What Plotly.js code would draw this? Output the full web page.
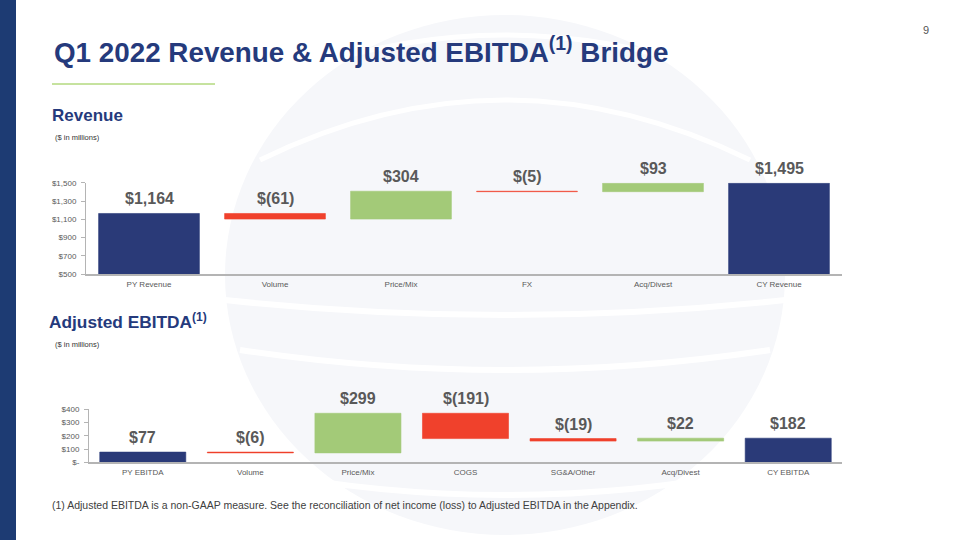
<!DOCTYPE html>
<html>
<head>
<meta charset="utf-8">
<script src="https://cdn.plot.ly/plotly-3.0.1.min.js"></script>
<style>
html,body{margin:0;padding:0;background:#fff;}
#chart{width:960px;height:540px;}
</style>
</head>
<body>
<div id="chart"></div>
<script>
// ---- data ----
const revCategories = ["PY Revenue", "Volume", "Price/Mix", "FX", "Acq/Divest", "CY Revenue"];
const revValues = [1164, -61, 304, -5, 93, 1495];
const revMeasures = ["absolute", "relative", "relative", "relative", "relative", "total"];
const revTickVals = [500, 700, 900, 1100, 1300, 1500];
const revTickText = ["$500", "$700", "$900", "$1,100", "$1,300", "$1,500"];

const ebitdaCategories = ["PY EBITDA", "Volume", "Price/Mix", "COGS", "SG&A/Other", "Acq/Divest", "CY EBITDA"];
const ebitdaValues = [77, -6, 299, -191, -19, 22, 182];
const ebitdaMeasures = ["absolute", "relative", "relative", "relative", "relative", "relative", "total"];
const ebitdaTickVals = [0, 100, 200, 300, 400];
const ebitdaTickText = ["$-", "$100", "$200", "$300", "$400"];

// ---- styles ----
const NAVY = "#2a3a78";
const RED = "#f0412c";
const GREEN = "#a3ca78";
const TITLE = "#253a7c";
const GREY = "#595959";
const FONT = "Liberation Sans, Arial, sans-serif";
const W = 960, H = 540;
const px = x => x / W;
const py = y => 1 - y / H;

function fmt(v) {
  const s = Math.abs(v).toLocaleString("en-US");
  return v < 0 ? "$(" + s + ")" : "$" + s;
}

function labels(cats, vals, measures, xref, yref) {
  let run = 0;
  const out = [];
  cats.forEach((c, i) => {
    let top, shown;
    if (measures[i] === "absolute") { run = vals[i]; top = run; shown = vals[i]; }
    else if (measures[i] === "total") { top = run; shown = run; }
    else { const prev = run; run += vals[i]; top = Math.max(prev, run); shown = vals[i]; }
    out.push({
      xref: xref, yref: yref, x: c, y: top, yanchor: "bottom", yshift: 4,
      text: "<b>" + fmt(shown) + "</b>", showarrow: false,
      font: {family: FONT, size: 16, color: GREY}
    });
  });
  return out;
}

const traces = [
  {
    type: "waterfall", x: revCategories, y: revValues, measure: revMeasures,
    xaxis: "x", yaxis: "y",
    increasing: {marker: {color: GREEN, line: {color: GREEN, width: 0.6}}},
    decreasing: {marker: {color: RED, line: {color: RED, width: 0.6}}},
    totals: {marker: {color: NAVY, line: {color: NAVY, width: 0.6}}},
    connector: {visible: false}, textinfo: "none", hoverinfo: "none", showlegend: false
  },
  {
    type: "waterfall", x: ebitdaCategories, y: ebitdaValues, measure: ebitdaMeasures,
    xaxis: "x2", yaxis: "y2", cliponaxis: false,
    increasing: {marker: {color: GREEN, line: {color: GREEN, width: 0.6}}},
    decreasing: {marker: {color: RED, line: {color: RED, width: 0.6}}},
    totals: {marker: {color: NAVY, line: {color: NAVY, width: 0.6}}},
    connector: {visible: false}, textinfo: "none", hoverinfo: "none", showlegend: false
  }
];

const xAxisBase = {
  type: "category", showgrid: false, zeroline: false, showline: true,
  linecolor: "#b4b4b4", linewidth: 1.2, ticks: "", ticklabelstandoff: 2,
  tickfont: {family: FONT, size: 8, color: GREY}, fixedrange: true
};
const yAxisBase = {
  showgrid: false, zeroline: false, showline: true, linecolor: "#b4b4b4", linewidth: 1,
  ticks: "outside", ticklen: 4, tickcolor: "#b4b4b4", ticklabelstandoff: 3,
  tickfont: {family: FONT, size: 8, color: GREY}, fixedrange: true
};

const annotations = [
  {xref: "paper", yref: "paper", x: px(52), y: py(50), xanchor: "left", yanchor: "middle",
   text: "<b>Q1 2022 Revenue &amp; Adjusted EBITDA<sup>(1)</sup> Bridge</b>", showarrow: false,
   font: {family: FONT, size: 27.8, color: TITLE}},
  {xref: "paper", yref: "paper", x: px(926), y: py(30), xanchor: "center", yanchor: "middle",
   text: "9", showarrow: false, font: {family: FONT, size: 11, color: "#555"}},
  {xref: "paper", yref: "paper", x: px(50), y: py(116), xanchor: "left", yanchor: "middle",
   text: "<b>Revenue</b>", showarrow: false, font: {family: FONT, size: 17, color: TITLE}},
  {xref: "paper", yref: "paper", x: px(53), y: py(137), xanchor: "left", yanchor: "middle",
   text: "($ in millions)", showarrow: false, font: {family: FONT, size: 7.5, color: "#333333"}},
  {xref: "paper", yref: "paper", x: px(47), y: py(321), xanchor: "left", yanchor: "middle",
   text: "<b>Adjusted EBITDA<sup>(1)</sup></b>", showarrow: false, font: {family: FONT, size: 17.3, color: TITLE}},
  {xref: "paper", yref: "paper", x: px(53), y: py(344), xanchor: "left", yanchor: "middle",
   text: "($ in millions)", showarrow: false, font: {family: FONT, size: 7.5, color: "#333333"}},
  {xref: "paper", yref: "paper", x: px(50), y: py(505), xanchor: "left", yanchor: "middle",
   text: "(1) Adjusted EBITDA is a non-GAAP measure. See the reconciliation of net income (loss) to Adjusted EBITDA in the Appendix.",
   showarrow: false, font: {family: FONT, size: 10.5, color: "#404040"}}
].concat(
  labels(revCategories, revValues, revMeasures, "x", "y"),
  labels(ebitdaCategories, ebitdaValues, ebitdaMeasures, "x2", "y2")
);

// watermark helpers (paper coordinates from pixel positions)
function P(x, y) { return px(x) + "," + py(y); }
const WM = "#f6f7fa";

const layout = {
  width: W, height: H,
  margin: {l: 0, r: 0, t: 0, b: 0},
  paper_bgcolor: "#ffffff", plot_bgcolor: "#ffffff",
  showlegend: false, waterfallgap: 0.2,
  xaxis: Object.assign({}, xAxisBase, {domain: [px(86), px(842)], anchor: "y"}),
  yaxis: Object.assign({}, yAxisBase, {domain: [py(274.3), py(182.7)], range: [500, 1500],
    tickvals: revTickVals, ticktext: revTickText, anchor: "x"}),
  xaxis2: Object.assign({}, xAxisBase, {domain: [px(89), px(842)], anchor: "y2"}),
  yaxis2: Object.assign({}, yAxisBase, {domain: [py(462.3), py(409.3)], range: [0, 400],
    tickvals: ebitdaTickVals, ticktext: ebitdaTickText, anchor: "x2"}),
  shapes: [
    // faint background watermark (globe with swoosh bands)
    {type: "circle", xref: "paper", yref: "paper", layer: "below",
     x0: px(225), x1: px(785), y0: py(535), y1: py(15),
     fillcolor: WM, line: {width: 0}},
    {type: "path", xref: "paper", yref: "paper", layer: "below",
     path: "M " + P(260, 160) + " Q " + P(505, 40) + " " + P(750, 160),
     line: {color: "#ffffff", width: 5}},
    {type: "path", xref: "paper", yref: "paper", layer: "below",
     path: "M " + P(300, 70) + " Q " + P(505, 0) + " " + P(710, 70),
     line: {color: "#ffffff", width: 5}},
    {type: "path", xref: "paper", yref: "paper", layer: "below",
     path: "M " + P(225, 300) + " Q " + P(505, 330) + " " + P(785, 300),
     line: {color: "#ffffff", width: 6}},
    {type: "path", xref: "paper", yref: "paper", layer: "below",
     path: "M " + P(240, 350) + " Q " + P(505, 390) + " " + P(770, 350),
     line: {color: "#ffffff", width: 6}},
    {type: "path", xref: "paper", yref: "paper", layer: "below",
     path: "M " + P(250, 470) + " Q " + P(505, 520) + " " + P(760, 470),
     line: {color: "#ffffff", width: 6}},
    // left stripe
    {type: "rect", xref: "paper", yref: "paper", x0: 0, x1: px(16), y0: 0, y1: 1,
     fillcolor: "#1d3b73", line: {width: 0}, layer: "below"},
    // green rule under title
    {type: "line", xref: "paper", yref: "paper", x0: px(52), x1: px(215), y0: py(84), y1: py(84),
     line: {color: "#8dc63f", width: 1}}
  ],
  annotations: annotations
};

Plotly.newPlot("chart", traces, layout, {staticPlot: true, displayModeBar: false});
</script>
</body>
</html>
